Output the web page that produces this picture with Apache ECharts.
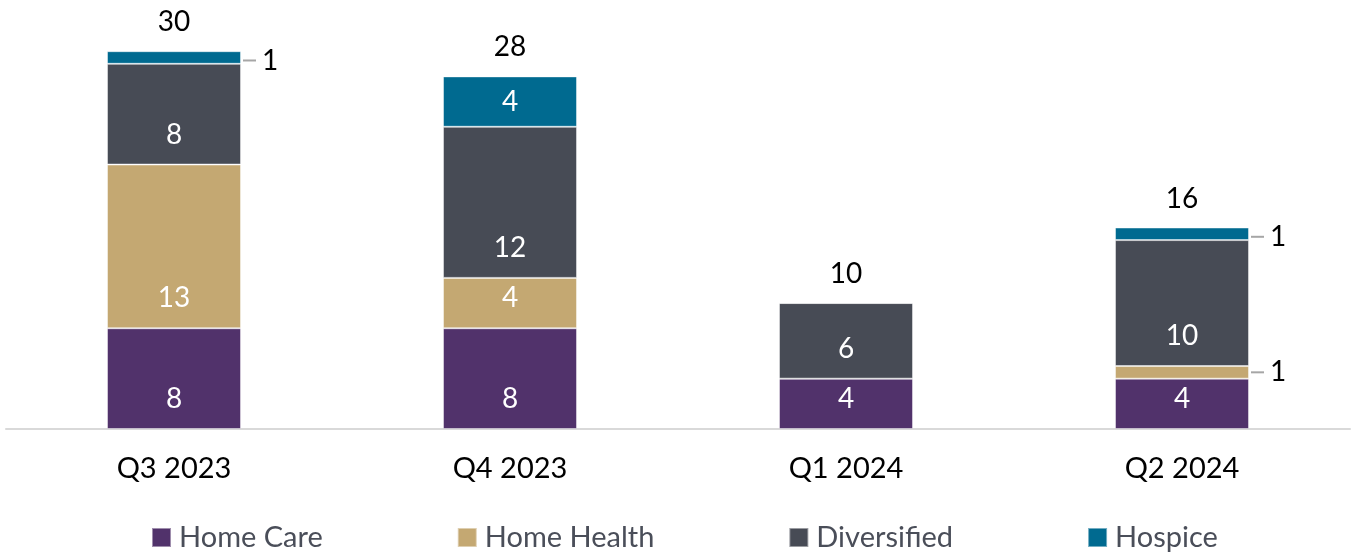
<!DOCTYPE html>
<html>
<head>
<meta charset="utf-8">
<script src="https://cdn.jsdelivr.net/npm/echarts@6/dist/echarts.min.js"></script>
<style>
  html, body { margin: 0; padding: 0; background: #fff; }
  #chart { width: 1351px; height: 554px; }
</style>
</head>
<body>
<div id="chart"></div>
<script>
// data
var quarters = ['Q3 2023', 'Q4 2023', 'Q1 2024', 'Q2 2024'];
var homeCare = [8, 8, 4, 4];
var homeHealth = [13, 4, 0, 1];
var diversified = [8, 12, 6, 10];
var hospice = [1, 4, 0, 1];
var totals = [30, 28, 10, 16];

var FONT = 'Lato';
var chart = echarts.init(document.getElementById('chart'));

// small segments get their label outside, with a short leader line
function outside(dy) {
    return {
        position: 'right',
        distance: 2,
        offset: [0, dy],
        color: '#000',
        formatter: '{l|}{v|{c}}',
        rich: {
            l: { width: 13, height: 2, backgroundColor: '#a6a6a6' },
            v: { fontSize: 28, fontFamily: FONT, color: '#000', padding: [0, 0, 0, 6] }
        }
    };
}

// short segments keep the label centred
var centred = { position: 'inside' };

function points(vals, smallAt, dy, centreAt) {
    return vals.map(function (v, i) {
        if (v === 0) return { value: 0, label: { show: false } };
        if (smallAt.indexOf(i) >= 0) return { value: v, label: outside(dy) };
        if (centreAt && centreAt.indexOf(i) >= 0) return { value: v, label: centred };
        return v;
    });
}

function seg(name, color, data) {
    return {
        name: name,
        type: 'bar',
        stack: 'all',
        barWidth: 134,
        data: data,
        itemStyle: { color: color, borderColor: 'rgba(255,255,255,0.45)', borderWidth: 1 },
        label: { show: true, position: 'insideBottom', distance: 16, color: '#fff', fontSize: 28, fontFamily: FONT },
        emphasis: { disabled: true }
    };
}

option = {
    animation: false,
    grid: { left: 6, right: 1, top: 26, bottom: 125 },
    legend: {
        data: ['Home Care', 'Home Health', 'Diversified', 'Hospice'],
        left: 151,
        top: 523,
        padding: 0,
        itemWidth: 19,
        itemHeight: 19,
        itemGap: 134,
        icon: 'rect',
        textStyle: { fontSize: 29, fontFamily: FONT, color: '#4a4e59', padding: [0, 0, 0, 3] }
    },
    xAxis: {
        type: 'category',
        data: quarters,
        axisLine: { lineStyle: { color: '#d9d9d9', width: 2 } },
        axisTick: { show: false },
        axisLabel: { fontSize: 29, fontFamily: FONT, color: '#000', margin: 25 }
    },
    yAxis: { type: 'value', min: 0, max: 32, show: false, splitLine: { show: false } },
    series: [
        seg('Home Care', '#51326b', points(homeCare, [], 0)),
        seg('Home Health', '#c4a872', points(homeHealth, [3], 0)),
        seg('Diversified', '#474b55', points(diversified, [], 0)),
        seg('Hospice', '#006a90', points(hospice, [0, 3], 3, [1])),
        {
            name: 'Total',
            type: 'bar',
            barWidth: 134,
            barGap: '-100%',
            data: totals,
            z: 1,
            itemStyle: { color: 'rgba(0,0,0,0)' },
            label: { show: true, position: 'top', distance: 15, color: '#000', fontSize: 28, fontFamily: FONT },
            emphasis: { disabled: true }
        }
    ]
};

chart.setOption(option);
</script>
</body>
</html>
